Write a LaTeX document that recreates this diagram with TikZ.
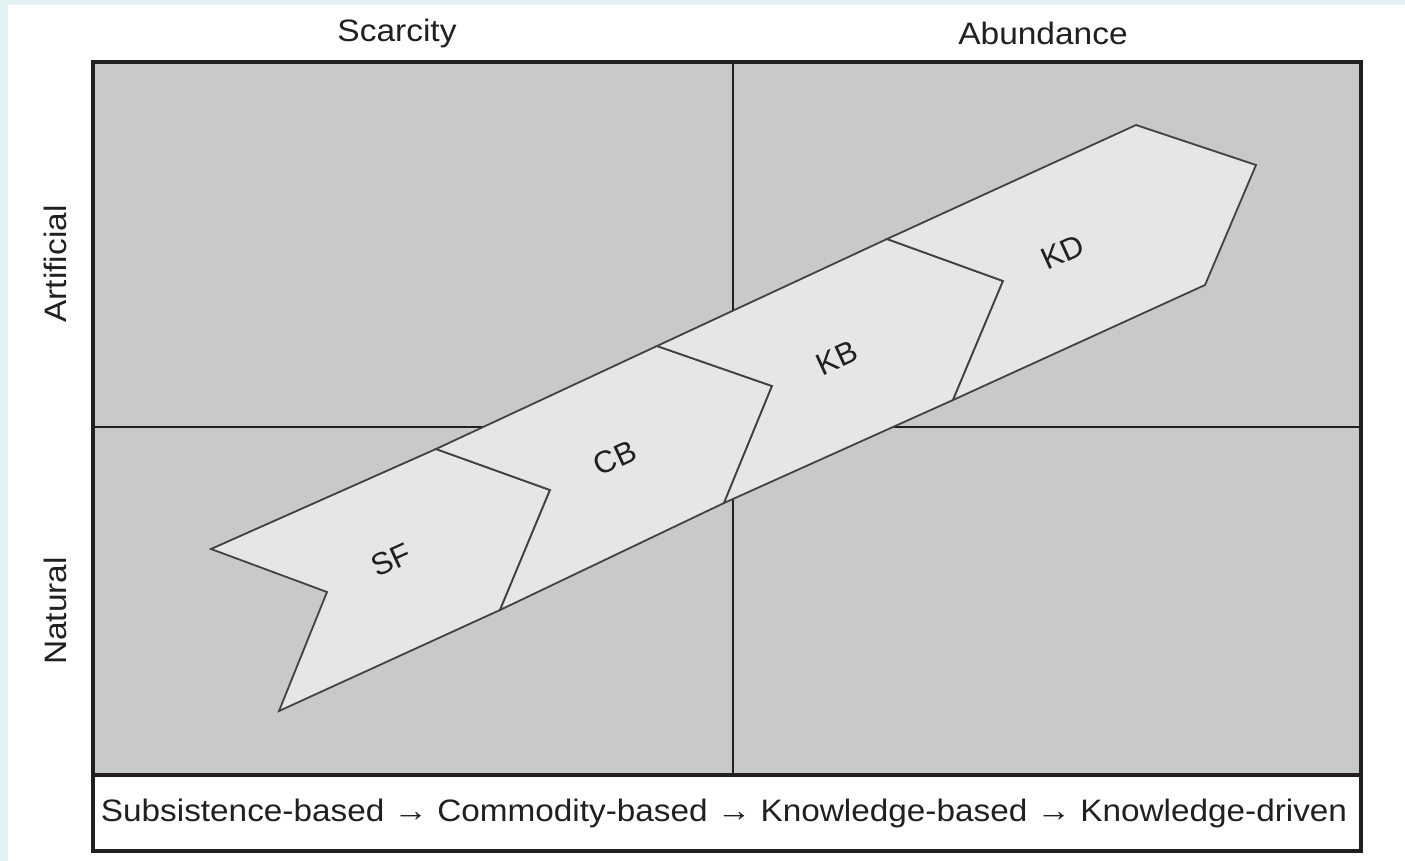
\documentclass[tikz,border=0pt]{standalone}
\usepackage{fontspec}
\setmainfont{Liberation Sans}
\newcommand{\wide}[1]{\scalebox{1.08}[1]{#1}}
\newcommand{\arr}{\raisebox{0pt}{\fontsize{32}{32}\selectfont →}}
\begin{document}
\begin{tikzpicture}[x=1pt,y=-1pt,
  piece/.style={fill=piecefill,draw=inkc!85,line width=1.8pt,line join=miter},
  lbl/.style={font=\fontsize{31}{31}\selectfont,text=inkc,inner sep=0pt},
  seg/.style={lbl,rotate=24.6}]
\definecolor{inkc}{HTML}{231F20}
\definecolor{quad}{HTML}{C8C9CB}
\definecolor{piecefill}{HTML}{E6E6E8}
\definecolor{edge}{HTML}{E3F3F4}
\useasboundingbox (0,0) rectangle (1405,861);
\fill[white] (0,0) rectangle (1405,861);
\fill[edge] (0,0) rectangle (1405,5);
\fill[edge] (0,0) rectangle (8,861);
% quadrants
\draw[fill=quad,draw=inkc,line width=4pt] (93,62) rectangle (1361,775);
\draw[fill=white,draw=inkc,line width=3.5pt] (93,775) rectangle (1361,851);
\coordinate (vt) at (733,62);
\coordinate (vb) at (733,773);
\coordinate (hl) at (93,427);
\coordinate (hr) at (1361,427);
\draw[inkc,line width=2.6pt] (vt) -- (vb);
\draw[inkc,line width=2.6pt] (hl) -- (hr);
% arrow vertices
\coordinate (t0) at (211,549);
\coordinate (t1) at (436,449);
\coordinate (t2) at (657,346);
\coordinate (t3) at (887,239);
\coordinate (t4) at (1136,125);
\coordinate (m0) at (327,592);
\coordinate (m1) at (550,490);
\coordinate (m2) at (772,386);
\coordinate (m3) at (1003,281);
\coordinate (m4) at (1256,165);
\coordinate (b0) at (279,711);
\coordinate (b1) at (500,610);
\coordinate (b2) at (724,503);
\coordinate (b3) at (953,400);
\coordinate (b4) at (1205,285);
\draw[piece] (t0) -- (t1) -- (m1) -- (b1) -- (b0) -- (m0) -- cycle;
\draw[piece] (t1) -- (t2) -- (m2) -- (b2) -- (b1) -- (m1) -- cycle;
\draw[piece] (t2) -- (t3) -- (m3) -- (b3) -- (b2) -- (m2) -- cycle;
\draw[piece] (t3) -- (t4) -- (m4) -- (b4) -- (b3) -- (m3) -- cycle;
\node[seg] (sf) at (391,560) {SF};
\node[seg] (cb) at (615,458) {CB};
\node[seg] (kb) at (837,358) {KB};
\node[seg] (kd) at (1063,252) {KD};
% axis labels
\node[lbl] (scar) at (397,33) {\wide{Scarcity}};
\node[lbl] (abun) at (1043,33) {\wide{Abundance}};
\node[lbl,rotate=90] (arti) at (55,264) {\wide{Artificial}};
\node[lbl,rotate=90] (natu) at (55,611) {\wide{Natural}};
\node[lbl] (bottom) at (724,813) {\scalebox{1.075}[1]{Subsistence-based \arr{} Commodity-based \arr{} Knowledge-based \arr{} Knowledge-driven}};
\end{tikzpicture}
\end{document}
